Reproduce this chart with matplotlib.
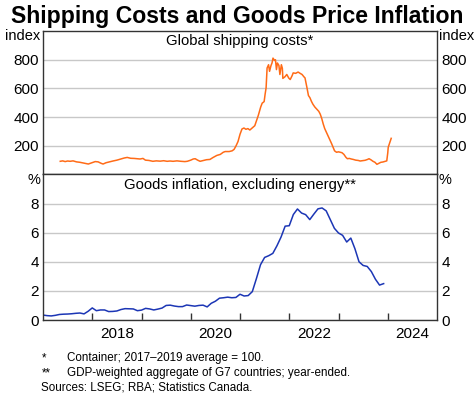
import matplotlib
matplotlib.use("Agg")
import matplotlib.pyplot as plt
import numpy as np

plt.rcParams['font.family'] = ['Liberation Sans', 'DejaVu Sans']

# Global shipping costs (index, 2017-2019 avg = 100), approx weekly readings
ship_dates = [2017.35, 2017.40, 2017.45, 2017.50, 2017.55, 2017.61, 2017.68, 2017.75, 2017.82, 2017.88,
              2017.92, 2017.98, 2018.06, 2018.12, 2018.18, 2018.22, 2018.28, 2018.35, 2018.42, 2018.50,
              2018.58, 2018.65, 2018.71, 2018.78, 2018.85, 2018.92, 2018.97, 2019.03, 2019.08, 2019.15,
              2019.23, 2019.30, 2019.38, 2019.45, 2019.52, 2019.58, 2019.64, 2019.72, 2019.80, 2019.88,
              2019.93, 2020.00, 2020.05, 2020.09, 2020.14, 2020.19, 2020.25, 2020.32, 2020.39, 2020.45,
              2020.53, 2020.60, 2020.66, 2020.70, 2020.78, 2020.84, 2020.88, 2020.92, 2020.96, 2021.00,
              2021.04, 2021.08, 2021.12, 2021.16, 2021.20, 2021.25, 2021.30, 2021.34, 2021.37, 2021.42,
              2021.45, 2021.49, 2021.51, 2021.53, 2021.55, 2021.58, 2021.60, 2021.63, 2021.65, 2021.67,
              2021.70, 2021.72, 2021.74, 2021.76, 2021.79, 2021.81, 2021.84, 2021.86, 2021.87, 2021.91,
              2021.95, 2021.99, 2022.02, 2022.06, 2022.08, 2022.13, 2022.18, 2022.22, 2022.26, 2022.30,
              2022.32, 2022.34, 2022.36, 2022.39, 2022.42, 2022.45, 2022.48, 2022.52, 2022.56, 2022.60,
              2022.63, 2022.66, 2022.69, 2022.72, 2022.77, 2022.80, 2022.83, 2022.86, 2022.89, 2022.92,
              2022.96, 2023.00, 2023.04, 2023.07, 2023.11, 2023.15, 2023.18, 2023.22, 2023.26, 2023.30,
              2023.35, 2023.40, 2023.44, 2023.48, 2023.54, 2023.59, 2023.62, 2023.66, 2023.70, 2023.74,
              2023.78, 2023.82, 2023.86, 2023.90, 2023.95, 2023.98, 2024.00, 2024.01, 2024.04, 2024.07]
ship_values = [92, 95, 90, 94, 92, 95, 88, 85, 80, 76,
               73, 80, 90, 88, 78, 73, 82, 88, 94, 100,
               108, 115, 119, 113, 112, 110, 108, 112, 100, 98,
               92, 95, 93, 96, 92, 94, 92, 95, 92, 90,
               92, 100, 108, 110, 100, 92, 97, 103, 105, 118,
               133, 140, 155, 160, 160, 165, 175, 200, 230, 280,
               317, 324, 315, 320, 310, 325, 340, 380, 410, 470,
               497, 508, 560, 604, 742, 765, 719, 760, 777, 811,
               795, 800, 731, 777, 760, 697, 765, 740, 670, 680,
               697, 672, 662, 690, 708, 705, 714, 705, 697, 680,
               673, 640, 604, 550, 535, 510, 490, 470, 455, 440,
               420, 390, 352, 320, 283, 260, 237, 215, 190, 165,
               155, 158, 155, 152, 140, 120, 110, 112, 108, 105,
               100, 98, 94, 96, 99, 105, 110, 102, 92, 85,
               71, 78, 85, 87, 92, 95, 150, 190, 220, 252]

# Goods inflation excluding energy (%, year-ended), monthly from Jan 2017
infl_start = 2017.0
infl_values = [0.34, 0.30, 0.28, 0.32, 0.38, 0.40, 0.41, 0.43, 0.46, 0.48, 0.42, 0.60,
               0.83, 0.64, 0.69, 0.69, 0.58, 0.59, 0.62, 0.72, 0.78, 0.77, 0.76, 0.64,
               0.68, 0.80, 0.76, 0.69, 0.75, 0.82, 1.00, 1.02, 0.96, 0.92, 0.92, 1.03,
               0.99, 0.95, 1.00, 1.02, 0.90, 1.15, 1.29, 1.50, 1.53, 1.57, 1.53, 1.55,
               1.77, 1.65, 1.68, 1.95, 2.85, 3.80, 4.30, 4.42, 4.58, 5.10, 5.70, 6.45,
               6.48, 7.25, 7.63, 7.35, 7.24, 6.90, 7.28, 7.64, 7.70, 7.50, 6.90, 6.30,
               5.98, 5.82, 5.36, 5.63, 4.90, 4.00, 3.75, 3.68, 3.33, 2.80, 2.40, 2.50]
infl_dates = [infl_start + i / 12 for i in range(len(infl_values))]

top_ticks = [200, 400, 600, 800]
bot_ticks = [0, 2, 4, 6, 8]
year_ticks = list(range(2018, 2025))
year_labels = [2018, 2020, 2022, 2024]

ORANGE = '#ff6b17'
BLUE = '#1c36b5'
GRID = '#c8c8c8'
SPINE = '#333333'
TFS = 11

fig = plt.figure(figsize=(4.75, 4.03), dpi=100)
W, H = 475, 403
left, right = 43, 437
ax1 = fig.add_axes([left / W, 1 - 174.5 / H, (right - left) / W, (174.5 - 31) / H])
ax2 = fig.add_axes([left / W, 1 - 320 / H, (right - left) / W, (320 - 174.5) / H])

for ax in (ax1, ax2):
    ax.set_xlim(2017, 2025)
    for s in ax.spines.values():
        s.set_color(SPINE)
        s.set_linewidth(1.0)
    ax.tick_params(axis='y', which='both', length=0, labelsize=TFS, pad=3,
                   left=False, right=False, labelleft=True, labelright=True)
    ax.set_axisbelow(True)

ax1.set_ylim(0, 1000)
ax1.set_yticks(top_ticks)
ax1.set_yticklabels([str(t) for t in top_ticks])
ax1.yaxis.grid(True, color=GRID, linewidth=1.0)
ax1.set_xticks([])
ax1.plot(ship_dates, ship_values, color=ORANGE, linewidth=1.1)

ax2.set_ylim(0, 10)
ax2.set_yticks(bot_ticks)
ax2.set_yticklabels([str(t) for t in bot_ticks])
ax2.yaxis.grid(True, color=GRID, linewidth=1.0)
ax2.set_xticks(year_ticks)
ax2.set_xticklabels([])
ax2.tick_params(axis='x', which='major', direction='in', length=5, color=SPINE, width=1)
ax2.set_xticks([y + 0.5 for y in year_labels], minor=True)
ax2.set_xticklabels([str(y) for y in year_labels], minor=True)
ax2.tick_params(axis='x', which='minor', length=0, labelsize=TFS, pad=5)
ax2.plot(infl_dates, infl_values, color=BLUE, linewidth=1.1)

# unit labels
for ax, unit in ((ax1, 'index'), (ax2, '%')):
    ax.text(-0.006, 0.962, unit, transform=ax.transAxes, ha='right', va='center', fontsize=10.5)
    ax.text(1.005, 0.962, unit, transform=ax.transAxes, ha='left', va='center', fontsize=10.5)

ax1.text(0.5, 0.93, 'Global shipping costs*', transform=ax1.transAxes, ha='center', va='center', fontsize=10.7)
ax2.text(0.5, 0.925, 'Goods inflation, excluding energy**', transform=ax2.transAxes, ha='center', va='center', fontsize=10.7)

fig.text(0.5, 1 - 16 / H, 'Shipping Costs and Goods Price Inflation', ha='center', va='center',
         fontsize=16.6, fontweight='bold')

fs = 8.4
fig.text(42 / W, 1 - 358 / H, '*', ha='left', va='center', fontsize=fs)
fig.text(67 / W, 1 - 358 / H, 'Container; 2017\u20132019 average = 100.', ha='left', va='center', fontsize=fs)
fig.text(42 / W, 1 - 373 / H, '**', ha='left', va='center', fontsize=fs)
fig.text(67 / W, 1 - 373 / H, 'GDP-weighted aggregate of G7 countries; year-ended.', ha='left', va='center', fontsize=fs)
fig.text(41 / W, 1 - 387 / H, 'Sources: LSEG; RBA; Statistics Canada.', ha='left', va='center', fontsize=fs)

fig.savefig('out.png', dpi=100)
